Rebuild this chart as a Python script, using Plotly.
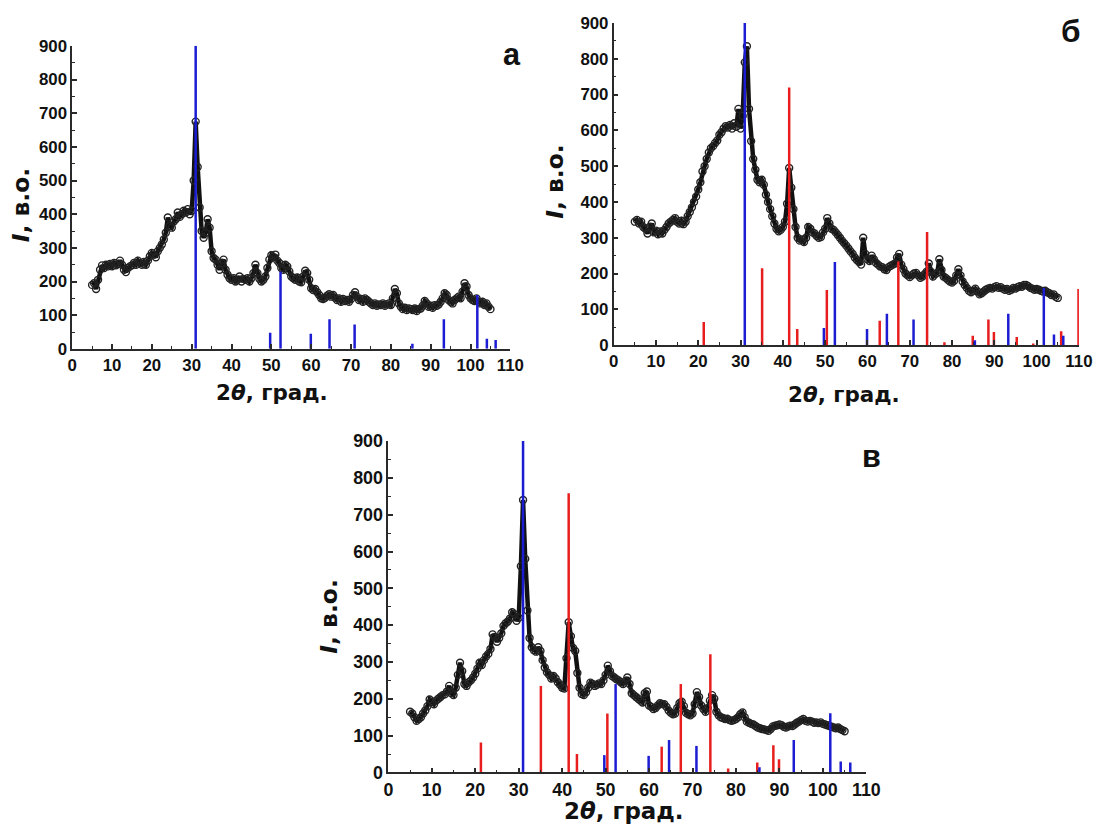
import numpy as np
import plotly.graph_objects as go

# ---------------- data ----------------
two_theta = np.arange(5.0, 105.01, 0.5)  # measurement grid, deg

intensity_a = [
    190, 195, 178, 205, 235, 248, 240, 250, 245, 252,
    245, 255, 248, 252, 262, 250, 235, 228, 240, 245,
    248, 255, 250, 262, 255, 250, 258, 250, 262, 275,
    285, 280, 272, 290, 300, 310, 325, 345, 390, 365,
    360, 378, 385, 405, 392, 400, 410, 405, 415, 400,
    410, 500, 675, 540, 420, 350, 330, 345, 385, 360,
    290, 270, 265, 250, 235, 255, 265, 235, 220, 210,
    205, 210, 200, 205, 215, 200, 208, 205, 210, 200,
    210, 225, 250, 225, 208, 200, 205, 215, 240, 265,
    278, 272, 280, 262, 255, 240, 235, 250, 245, 230,
    215, 210, 205, 212, 200, 198, 215, 232, 225, 205,
    180, 175, 178, 168, 160, 150, 148, 152, 158, 162,
    155, 160, 152, 145, 150, 140, 148, 142, 145, 140,
    148, 160, 168, 155, 145, 148, 140, 150, 145, 140,
    135, 130, 135, 128, 132, 130, 135, 128, 132, 135,
    130, 150, 178, 165, 135, 125, 118, 122, 115, 120,
    118, 115, 120, 112, 118, 120, 128, 142, 135, 125,
    128, 122, 130, 128, 132, 140, 150, 165, 160, 145,
    140, 135, 145, 150, 155, 150, 170, 195, 185, 160,
    150, 145, 142, 150, 140, 135, 140, 130, 135, 125,
    118,
]

intensity_b = [
    345, 350, 340, 345, 330, 325, 312, 330, 340, 315,
    320, 310, 318, 312, 322, 330, 340, 345, 350, 355,
    345, 340, 348, 338, 345, 360, 372, 385, 400, 415,
    435, 455, 485, 500, 520, 538, 550, 556, 565, 572,
    588, 595, 605, 612, 608, 615, 605, 620, 610, 660,
    605, 640, 790, 835, 660, 570, 520, 490, 462, 455,
    462, 448, 420, 400, 380, 360, 340, 325, 318, 322,
    330, 345, 395, 495, 440, 380, 330, 300, 292, 295,
    288, 300, 330, 325, 315, 312, 305, 300, 302, 315,
    325, 355, 340, 325, 322, 315, 308, 300, 292, 285,
    278, 270, 262, 255, 245, 238, 232, 225, 300, 255,
    240, 235, 250, 240, 230, 225, 220, 218, 212, 210,
    218, 222, 225, 228, 245, 255, 225, 212, 200, 195,
    190, 195, 200, 202, 195, 188, 192, 198, 205, 228,
    205, 192, 198, 202, 240, 210, 192, 188, 183, 178,
    175, 180, 195, 212, 195, 178, 168, 160, 152, 148,
    152, 158, 150, 142, 145, 150, 155, 158, 160, 158,
    162, 165, 160, 162, 158, 155, 157, 152, 155, 160,
    158, 162, 165, 163, 168, 168, 165, 160, 158, 155,
    157, 155, 152, 150, 152, 148, 145, 140, 142, 135,
    132,
]

intensity_c = [
    165, 160, 150, 140, 145, 150, 160, 168, 180, 198,
    192, 185, 195, 200, 205, 210, 212, 220, 235, 215,
    210, 230, 265, 298, 275, 240, 235, 245, 250, 258,
    268, 282, 298, 292, 305, 315, 322, 335, 375, 368,
    355, 365, 378, 398, 405, 410, 418, 435, 430, 412,
    420, 560, 740, 580, 440, 365, 340, 332, 328, 340,
    330, 305, 285, 272, 265, 255, 262, 255, 245, 238,
    230, 228, 310, 408, 370, 338, 330, 270, 230, 213,
    210, 218, 230, 244, 240, 235, 238, 242, 240, 250,
    265, 290, 275, 262, 258, 253, 250, 245, 240, 248,
    258, 240, 215, 210, 205, 200, 195, 190, 215, 220,
    182, 178, 172, 175, 182, 188, 186, 185, 178, 168,
    162, 158, 160, 175, 188, 192, 180, 162, 158, 155,
    160, 185, 218, 205, 182, 172, 165, 175, 195, 210,
    200, 165, 155, 150, 148, 145, 146, 142, 140, 142,
    145, 150, 158, 163, 150, 138, 135, 132, 130, 126,
    122, 120, 118, 117, 115, 113, 118, 125, 127, 128,
    130, 128, 124, 122, 125, 127, 126, 130, 135, 138,
    142, 145, 140, 138, 140, 138, 135, 136, 134, 136,
    132, 130, 128, 126, 124, 122, 120, 122, 118, 115,
    112,
]

# reference (stick) patterns
blue_pos = [31.0, 49.7, 52.3, 59.9, 64.6, 70.9, 85.4, 93.3, 101.7, 104.1, 106.3]
blue_int_a = [900, 48, 230, 45, 88, 72, 15, 88, 160, 30, 26]
blue_int_b = [900, 48, 232, 45, 88, 72, 14, 88, 160, 30, 26]
blue_int_c = [900, 47, 240, 45, 88, 72, 14, 88, 161, 30, 27]

red_pos_b = [21.3, 35.1, 41.5, 43.4, 50.4, 62.9, 67.3, 74.1, 78.2, 84.9, 88.6, 89.9, 95.3, 99.2, 105.8, 109.9]
red_int_b = [65, 215, 720, 45, 154, 68, 234, 316, 8, 26, 72, 37, 23, 5, 39, 157]
red_pos_c = [21.3, 35.1, 41.5, 43.4, 50.4, 62.9, 67.3, 74.1, 78.2, 84.9, 88.6, 89.9]
red_int_c = [81, 235, 758, 50, 160, 70, 240, 321, 11, 27, 74, 36]

x_ticks = list(range(0, 111, 10))
y_ticks = list(range(0, 901, 100))
panel_labels = ["а", "б", "в"]

# ---------------- figure ----------------
W, H = 1097, 834
BLUE = "rgb(28,28,210)"
RED = "rgb(232,30,30)"
AX = "#2a2a2a"
FONT = "Liberation Sans, Arial, sans-serif"
TFONT = "DejaVu Sans, Liberation Sans, sans-serif"

# the photographed page comes out slightly shrunk and shifted; pre-compensate
SX, OX = 0.98, 6.0
SY, OY = 0.977, 8.5


def fx(X):
    return (X - OX) / SX


def fy(Y):
    return (Y - OY) / SY


def fs(s):
    return s / SX


def sticks(pos, inten):
    xs, ys = [], []
    for p, h in zip(pos, inten):
        xs += [p, p, None]
        ys += [0, h, None]
    return xs, ys


fig = go.Figure()

panels = [
    ("x", "y", intensity_a, blue_int_a, None, None),
    ("x2", "y2", intensity_b, blue_int_b, red_pos_b, red_int_b),
    ("x3", "y3", intensity_c, blue_int_c, red_pos_c, red_int_c),
]

for xa, ya, inten, bint, rpos, rint in panels:
    fig.add_trace(go.Scatter(
        x=two_theta, y=inten, xaxis=xa, yaxis=ya, mode="lines+markers",
        line=dict(color="#111", width=4.5),
        marker=dict(symbol="circle-open", size=7, color="#222", line=dict(width=1.4)),
        showlegend=False, hoverinfo="skip"))
    if rpos is not None:
        rx, ry = sticks(rpos, rint)
        fig.add_trace(go.Scatter(x=rx, y=ry, xaxis=xa, yaxis=ya, mode="lines",
                                 line=dict(color=RED, width=2.5), showlegend=False,
                                 hoverinfo="skip"))
    bx, by = sticks(blue_pos, bint)
    fig.add_trace(go.Scatter(x=bx, y=by, xaxis=xa, yaxis=ya, mode="lines",
                             line=dict(color=BLUE, width=2.5), showlegend=False,
                             hoverinfo="skip"))

# target pixel geometry of the three plot areas: (x0, x1, ytop, ybottom)
geom = [
    (73, 510, 44.4, 347.7),
    (613, 1077, 21.5, 344.0),
    (388.3, 865, 440.0, 771.7),
]
tick_sizes = [16.5, 16.5, 17.5]

layout = dict(width=W, height=H, autosize=False, margin=dict(l=0, r=0, t=0, b=0),
              paper_bgcolor="white", plot_bgcolor="white", showlegend=False)

names = [("xaxis", "yaxis", "y", "x"), ("xaxis2", "yaxis2", "y2", "x2"), ("xaxis3", "yaxis3", "y3", "x3")]
for (xn, yn, yanc, xanc), (x0, x1, yt, yb), ts in zip(names, geom, tick_sizes):
    tickfont = dict(family=FONT, size=fs(ts), color="#111", weight="bold")
    layout[xn] = dict(range=[0, 110], tickvals=x_ticks, showline=True, linecolor=AX, linewidth=1.6,
                      ticks="inside", ticklen=5, tickwidth=1.5, tickcolor=AX,
                      minor=dict(ticks="inside", ticklen=3, tickwidth=1.2, tickcolor=AX, dtick=5),
                      showgrid=False, zeroline=False, tickfont=tickfont, fixedrange=True,
                      domain=[fx(x0) / W, min(fx(x1) / W, 1.0)], anchor=yanc)
    layout[yn] = dict(range=[0, 900], tickvals=y_ticks, showline=True, linecolor=AX, linewidth=1.6,
                      ticks="inside", ticklen=5, tickwidth=1.5, tickcolor=AX,
                      minor=dict(ticks="inside", ticklen=3, tickwidth=1.2, tickcolor=AX, dtick=50),
                      showgrid=False, zeroline=False, tickfont=tickfont, fixedrange=True,
                      domain=[max(1 - fy(yb) / H, 0.0), min(1 - fy(yt) / H, 1.0)], anchor=xanc)

fig.update_layout(**layout)

# axis titles and panel letters (target positions in pixels)
xt_pos = [(272, 391, 21), (843, 393, 21), (623, 810, 22.5)]
yt_pos = [(22, 204, 23), (555, 180, 23), (329, 615, 23)]
letters_pos = [(512, 53, 30, "center"), (1090, 30, 31, "right"), (870, 455, 30, "center")]

for (px, py, s) in xt_pos:
    fig.add_annotation(x=fx(px) / W, y=1 - fy(py) / H, xref="paper", yref="paper", showarrow=False,
                       text="2<i>θ</i>, град.", font=dict(family=TFONT, size=fs(s), color="#111", weight="bold"),
                       xanchor="center", yanchor="middle")
for (px, py, s) in yt_pos:
    fig.add_annotation(x=fx(px) / W, y=1 - fy(py) / H, xref="paper", yref="paper", showarrow=False,
                       text="<i>I</i>, в.о.", textangle=-90,
                       font=dict(family=TFONT, size=fs(s), color="#111", weight="bold"),
                       xanchor="center", yanchor="middle")
for lab, (px, py, s, anc) in zip(panel_labels, letters_pos):
    fig.add_annotation(x=min(fx(px) / W, 1.0), y=1 - fy(py) / H, xref="paper", yref="paper",
                       showarrow=False, text=lab,
                       font=dict(family=FONT, size=fs(s), color="#111", weight="bold"),
                       xanchor=anc, yanchor="middle")

fig.write_html(
    "out.html",
    config={"displayModeBar": False},
    post_script=(
        "document.documentElement.style.margin='0';"
        "document.body.style.margin='0';document.body.style.padding='0';"
        "document.documentElement.style.overflow='hidden';document.body.style.overflow='hidden';"
    ),
)
